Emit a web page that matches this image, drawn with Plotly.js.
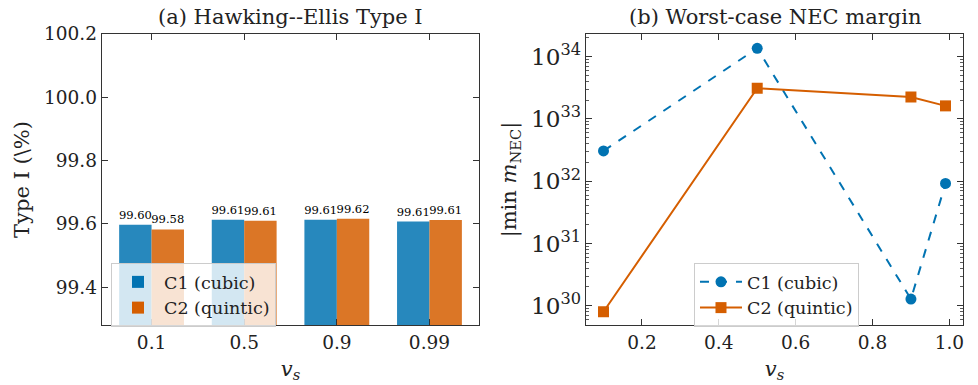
<!DOCTYPE html>
<html>
<head>
<meta charset="utf-8">
<script src="https://cdn.plot.ly/plotly-3.0.1.min.js"></script>
<style>html,body{margin:0;padding:0;background:#fff;}#chart{width:978px;height:385px;}</style>
</head>
<body>
<div id="chart"></div>
<script>
// ---- data ----
const categories = ["0.1", "0.5", "0.9", "0.99"];
const c1TypeI = [99.597, 99.613, 99.613, 99.607];
const c2TypeI = [99.582, 99.610, 99.616, 99.612];
const vs = [0.1, 0.5, 0.9, 0.99];
const c1Nec = [3.06e32, 1.36e34, 1.28e30, 9.2e31];
const c2Nec = [8.0e29, 3.11e33, 2.25e33, 1.62e33];
const seriesNames = ["C1 (cubic)", "C2 (quintic)"];

const FONT = "DejaVu Serif, serif";
const AX = "#333333";
const blue = "#0173b2", orange = "#d55e00";

const traces = [
  {type: "bar", x: categories, y: c1TypeI, name: seriesNames[0], xaxis: "x", yaxis: "y",
   marker: {color: blue, opacity: 0.85}, texttemplate: "%{y:.2f}", textposition: "outside",
   textfont: {family: FONT, size: 11.5, color: "#000"}, cliponaxis: false, constraintext: "none", legend: "legend"},
  {type: "bar", x: categories, y: c2TypeI, name: seriesNames[1], xaxis: "x", yaxis: "y",
   marker: {color: orange, opacity: 0.85}, texttemplate: "%{y:.2f}", textposition: "outside",
   textfont: {family: FONT, size: 11.5, color: "#000"}, cliponaxis: false, constraintext: "none", legend: "legend"},
  {type: "scatter", mode: "lines+markers", x: vs, y: c1Nec, name: seriesNames[0], xaxis: "x2", yaxis: "y2",
   line: {color: blue, width: 2, dash: "dash"}, marker: {symbol: "circle", size: 11, color: blue}, legend: "legend2", cliponaxis: false},
  {type: "scatter", mode: "lines+markers", x: vs, y: c2Nec, name: seriesNames[1], xaxis: "x2", yaxis: "y2",
   line: {color: orange, width: 2}, marker: {symbol: "square", size: 11, color: orange}, legend: "legend2", cliponaxis: false}
];

const axCommon = {showline: true, linecolor: AX, linewidth: 1.3, mirror: "allticks", ticks: "inside",
  ticklen: 6, tickwidth: 1.1, tickcolor: AX, showgrid: false, zeroline: false,
  tickfont: {family: FONT, size: 18.5, color: "#222"}};

const legendCommon = {xanchor: "left", yanchor: "top", bgcolor: "rgba(255,255,255,0.8)",
  bordercolor: "#cccccc", borderwidth: 1, itemwidth: 42, font: {family: FONT, size: 17.5, color: "#222"}};

const layout = {
  width: 978, height: 385,
  margin: {l: 0, r: 0, t: 0, b: 0},
  paper_bgcolor: "#fff", plot_bgcolor: "#fff",
  font: {family: FONT, color: "#222"},
  barmode: "group", bargap: 0.3, bargroupgap: 0,
  showlegend: true,
  xaxis: Object.assign({}, axCommon, {domain: [0.1043, 0.4898], type: "category", range: [-0.535, 3.535],
    anchor: "y", title: {text: "<i>v</i><sub><i>s</i></sub>", font: {family: FONT, size: 21}, standoff: 9}}),
  yaxis: Object.assign({}, axCommon, {domain: [0.1558, 0.9117], range: [99.28, 100.2], dtick: 0.2, tick0: 99.4,
    tickformat: ".1f", anchor: "x", title: {text: "Type I (\\%)", font: {family: FONT, size: 21}, standoff: 8}}),
  xaxis2: Object.assign({}, axCommon, {domain: [0.5992, 0.9847], range: [0.0545, 1.0356], dtick: 0.2, tick0: 0,
    tickformat: ".1f", anchor: "y2", title: {text: "<i>v</i><sub><i>s</i></sub>", font: {family: FONT, size: 21}, standoff: 9}}),
  yaxis2: Object.assign({}, axCommon, {domain: [0.1558, 0.9117], type: "log", range: [29.69, 34.364], dtick: 1,
    exponentformat: "power", anchor: "x2",
    minor: {ticks: "inside", ticklen: 3, tickwidth: 0.8, tickcolor: AX, dtick: "D1", showgrid: false},
    title: {text: "|min <i>m</i><sub>NEC</sub>|", font: {family: FONT, size: 21}, standoff: 8}}),
  legend: Object.assign({}, legendCommon, {x: 0.1135, y: 0.3169}),
  legend2: Object.assign({}, legendCommon, {x: 0.7096, y: 0.3169}),
  annotations: [
    {text: "(a) Hawking--Ellis Type I", xref: "paper", yref: "paper", x: 0.297, y: 1 - 17/385,
     xanchor: "center", yanchor: "middle", showarrow: false, font: {family: FONT, size: 21, color: "#222"}},
    {text: "(b) Worst-case NEC margin", xref: "paper", yref: "paper", x: 0.792, y: 1 - 17/385,
     xanchor: "center", yanchor: "middle", showarrow: false, font: {family: FONT, size: 21, color: "#222"}}
  ]
};

Plotly.newPlot("chart", traces, layout, {staticPlot: true, displayModeBar: false});
</script>
</body>
</html>
